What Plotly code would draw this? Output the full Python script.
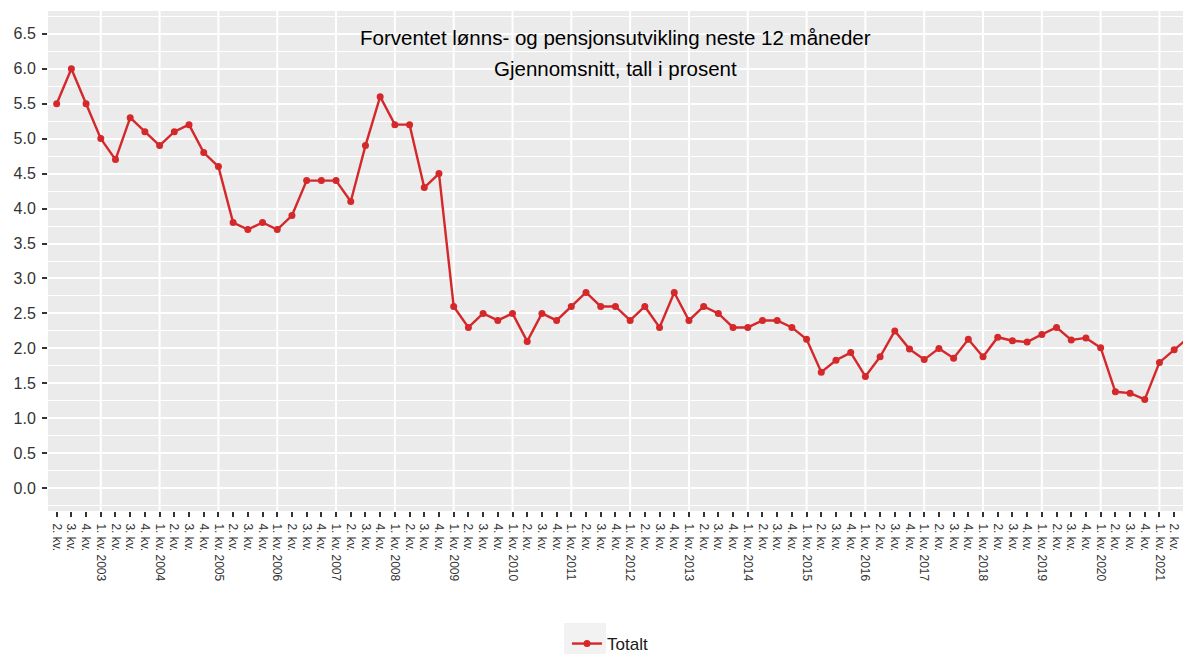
import plotly.graph_objects as go

# Quarterly survey periods, 2. kv. 2002 through 3. kv. 2021
first_year, first_quarter = 2002, 2
n_periods = 78
periods = []
y, q = first_year, first_quarter
for _ in range(n_periods):
    periods.append((y, q))
    q += 1
    if q > 4:
        q, y = 1, y + 1

tick_labels = [f"{q}. kv. {y}" if q == 1 else f"{q}. kv." for (y, q) in periods]

# Expected wage and pension growth, next 12 months (average, per cent)
totalt = [
    5.5, 6.0, 5.5,                      # 2002
    5.0, 4.7, 5.3, 5.1,                 # 2003
    4.9, 5.1, 5.2, 4.8,                 # 2004
    4.6, 3.8, 3.7, 3.8,                 # 2005
    3.7, 3.9, 4.4, 4.4,                 # 2006
    4.4, 4.1, 4.9, 5.6,                 # 2007
    5.2, 5.2, 4.3, 4.5,                 # 2008
    2.6, 2.3, 2.5, 2.4,                 # 2009
    2.5, 2.1, 2.5, 2.4,                 # 2010
    2.6, 2.8, 2.6, 2.6,                 # 2011
    2.4, 2.6, 2.3, 2.8,                 # 2012
    2.4, 2.6, 2.5, 2.3,                 # 2013
    2.3, 2.4, 2.4, 2.3,                 # 2014
    2.13, 1.66, 1.83, 1.94,             # 2015
    1.60, 1.88, 2.25, 1.99,             # 2016
    1.84, 2.00, 1.86, 2.13,             # 2017
    1.88, 2.16, 2.11, 2.09,             # 2018
    2.20, 2.30, 2.12, 2.15,             # 2019
    2.01, 1.38, 1.36, 1.27,             # 2020
    1.80, 1.98, 2.16,                   # 2021
]

title_line1 = "Forventet lønns- og pensjonsutvikling neste 12 måneder"
title_line2 = "Gjennomsnitt, tall i prosent"
series_name = "Totalt"

RED = "#D4282B"
FONT = "Arial, Liberation Sans, sans-serif"
W, H = 1183, 654
x_idx = list(range(len(totalt)))

fig = go.Figure()
fig.add_trace(go.Scatter(
    x=x_idx, y=totalt, name=series_name, mode="lines+markers",
    line=dict(color=RED, width=2.4),
    marker=dict(color=RED, size=7),
    showlegend=True,
))

# vertical white gridlines at each year's first quarter
shapes = []
for i, (yy, qq) in enumerate(periods):
    if qq == 1:
        shapes.append(dict(type="line", xref="x", yref="paper", x0=i, x1=i,
                           y0=0, y1=1, layer="below",
                           line=dict(color="white", width=2)))

# grey background behind the legend key
shapes.append(dict(type="rect", xref="paper", yref="paper",
                   x0=(564 - 48) / 1135, x1=(606 - 48) / 1135,
                   y0=(511 - 623) / 500, y1=(511 - 662) / 500,
                   fillcolor="#F2F2F2", line=dict(width=0), layer="below"))

fig.update_layout(
    width=W, height=H,
    margin=dict(l=48, r=0, t=11, b=143, autoexpand=False),
    paper_bgcolor="white", plot_bgcolor="#EBEBEB",
    font=dict(family=FONT, color="#333333"),
    shapes=shapes,
    showlegend=True,
    legend=dict(orientation="h", x=(567 - 48) / 1135, xanchor="left",
                y=(511 - 644) / 500, yanchor="middle",
                bgcolor="rgba(0,0,0,0)", font=dict(size=17, color="#1a1a1a")),
    annotations=[
        dict(text=title_line1, xref="paper", yref="paper",
             x=(615 - 48) / 1135, y=(511 - 37) / 500, showarrow=False,
             xanchor="center", yanchor="middle",
             font=dict(size=20.5, color="black", family=FONT)),
        dict(text=title_line2, xref="paper", yref="paper",
             x=(615 - 48) / 1135, y=(511 - 68) / 500, showarrow=False,
             xanchor="center", yanchor="middle",
             font=dict(size=20.5, color="black", family=FONT)),
    ],
)

fig.update_xaxes(
    range=[-0.59, 76.6], showgrid=False, zeroline=False, automargin=False,
    tickmode="array", tickvals=x_idx, ticktext=tick_labels,
    tickangle=90, tickfont=dict(size=12, color="#333333"),
    ticks="outside", ticklen=5, tickwidth=1.5, tickcolor="#333333",
    ticklabelstandoff=4, showline=False,
)
fig.update_yaxes(
    range=[-0.325, 6.825], tickmode="linear", tick0=0, dtick=0.5,
    tickformat=".1f", tickfont=dict(size=16, color="#333333"),
    ticks="outside", ticklen=5, tickwidth=1.5, tickcolor="#333333",
    ticklabelstandoff=3,
    showgrid=True, gridcolor="white", gridwidth=2, zeroline=False,
    minor=dict(dtick=0.25, tick0=0, showgrid=True, gridcolor="white", gridwidth=1),
    showline=False, automargin=False,
)

fig.write_html("out.html")
